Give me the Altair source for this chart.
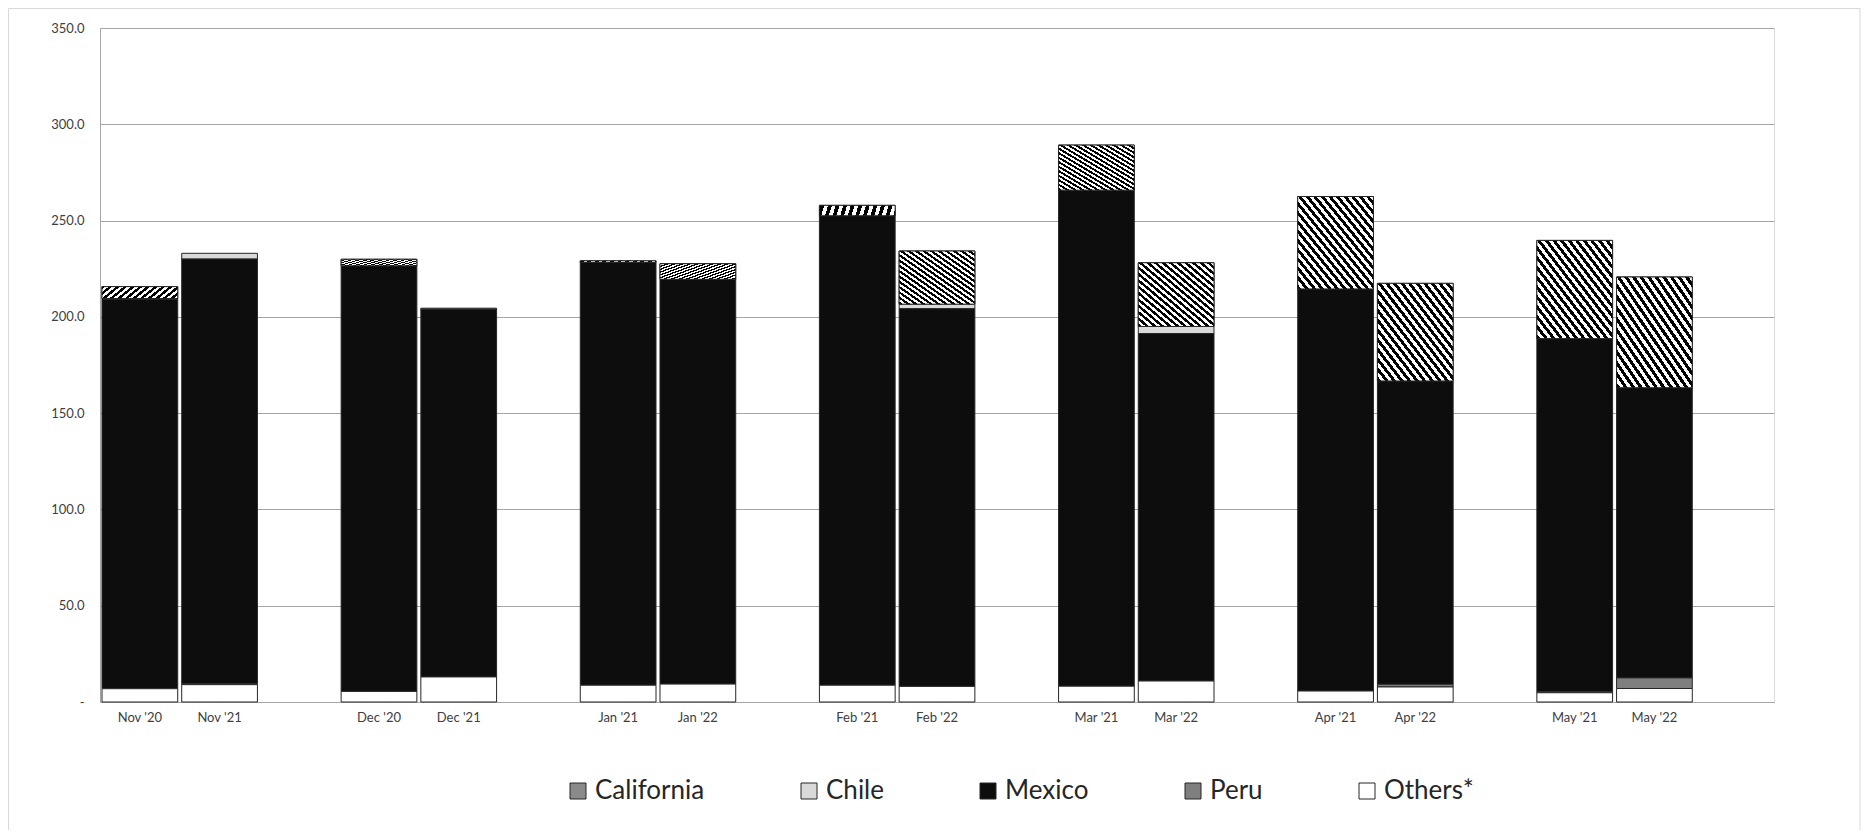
import altair as alt
import pandas as pd

# ---------------- data ----------------
categories = ["Nov '20", "Nov '21", "Dec '20", "Dec '21", "Jan '21", "Jan '22",
              "Feb '21", "Feb '22", "Mar '21", "Mar '22", "Apr '21", "Apr '22",
              "May '21", "May '22"]
california = [6.2, 0.0, 3.4, 0.0, 0.9, 8.1, 5.4, 27.6, 23.4, 33.1, 48.0, 50.7, 51.0, 57.5]
chile      = [0.5, 3.0, 0.0, 0.5, 0.0, 0.0, 0.0, 2.4, 0.0, 3.7, 0.0, 0.0, 0.0, 0.0]
mexico     = [202.1, 220.5, 221.0, 191.0, 219.5, 210.2, 243.8, 196.1, 257.6, 180.4,
              208.8, 157.5, 183.4, 150.7]
peru       = [0.0, 0.5, 0.0, 0.0, 0.0, 0.0, 0.0, 0.0, 0.0, 0.0, 0.0, 1.4, 0.5, 5.5]
others     = [6.9, 9.0, 5.5, 13.0, 8.7, 9.3, 8.7, 8.1, 8.2, 10.9, 5.7, 7.8, 4.8, 7.0]

series_names = ["California", "Chile", "Mexico", "Peru", "Others*"]
y_ticks = [0, 50, 100, 150, 200, 250, 300, 350]

# ---------------- build table ----------------
series_values = {"California": california, "Chile": chile, "Mexico": mexico,
                 "Peru": peru, "Others*": others}
stack_order = {"Others*": 0, "Peru": 1, "Mexico": 2, "Chile": 3, "California": 4}
rows = []
for s, vals in series_values.items():
    for c, v in zip(categories, vals):
        rows.append({"cat": c, "series": s, "value": v, "order": stack_order[s]})
df = pd.DataFrame(rows)

# x slots: two bars per month followed by an empty slot (as in the source chart)
slots = []
for i in range(0, len(categories), 2):
    slots += [categories[i], categories[i + 1], f"gap{i // 2}"]

# ---------------- styling ----------------
W, H = 1674, 674
FONT = "Lato"
colors = ["#8a8a8a", "#d9d9d9", "#0d0d0d", "#7f7f7f", "#ffffff"]

# diagonal stripe fill for California
n_periods = 20
stops = []
for k in range(n_periods):
    a = k / n_periods
    b = (k + 0.5) / n_periods
    c = (k + 1) / n_periods
    stops += [{"offset": a, "color": "#000000"}, {"offset": b, "color": "#000000"},
              {"offset": b, "color": "#ffffff"}, {"offset": c, "color": "#ffffff"}]
stripe = {"gradient": "linear", "x1": 0, "y1": 1, "x2": 1, "y2": 0, "stops": stops}

x_enc = alt.X("cat:N",
              scale=alt.Scale(domain=slots, paddingInner=0.05, paddingOuter=0.025),
              sort=slots,
              axis=alt.Axis(title=None, labelAngle=0, ticks=False, labelPadding=9,
                            labelFontSize=13, labelColor="#404040", labelFont=FONT,
                            domainColor="#a6a6a6", domainWidth=1,
                            labelExpr="indexof(datum.value, 'gap') == 0 ? '' : datum.value"))
y_enc = alt.Y("y0:Q",
              scale=alt.Scale(domain=[0, 350], nice=False, zero=True),
              axis=alt.Axis(title=None, values=y_ticks, ticks=False, labelPadding=16,
                            labelFontSize=13, labelColor="#404040", labelFont=FONT,
                            gridColor="#a6a6a6", gridWidth=1, domainColor="#a6a6a6",
                            labelExpr="datum.value == 0 ? '-\u00a0' : format(datum.value, '.1f')"))

base = alt.Chart(df).transform_filter("datum.value > 0").transform_stack(
    stack="value", groupby=["cat"], as_=["y0", "y1"],
    sort=[alt.SortField("order", order="ascending")])

bars = base.mark_bar(stroke="#262626", strokeWidth=1).encode(
    x=x_enc, y=y_enc, y2="y1:Q",
    color=alt.Color("series:N",
                    scale=alt.Scale(domain=series_names, range=colors),
                    legend=alt.Legend(title=None, orient="none", direction="horizontal",
                                      legendX=465, legendY=750, padding=0,
                                      symbolType="square", symbolSize=256,
                                      symbolStrokeColor="#262626", symbolStrokeWidth=1,
                                      labelFontSize=26, labelFont=FONT, labelColor="#262626",
                                      labelOffset=4, columnPadding=91)),
)

cal = base.transform_filter("datum.series == 'California'").mark_bar(
    fill=stripe, stroke="#262626", strokeWidth=1).encode(
    x=alt.X("cat:N", scale=alt.Scale(domain=slots, paddingInner=0.05, paddingOuter=0.025)),
    y="y0:Q", y2="y1:Q")

border = alt.Chart(pd.DataFrame({"a": [0]})).mark_rect(
    fill=None, stroke="#d9d9d9", strokeWidth=1).encode(
    x=alt.value(-91.5), x2=alt.value(W + 86), y=alt.value(-19.5), y2=alt.value(H + 200))

chart = alt.layer(bars, cal, border).properties(
    width=W, height=H,
    autosize=alt.AutoSizeParams(type="none"),
    padding={"left": 92, "top": 20, "right": 88, "bottom": 128},
).configure_view(stroke=None).configure(font=FONT, background="white")

chart.save("out.html", embed_options={"renderer": "svg", "actions": False})
